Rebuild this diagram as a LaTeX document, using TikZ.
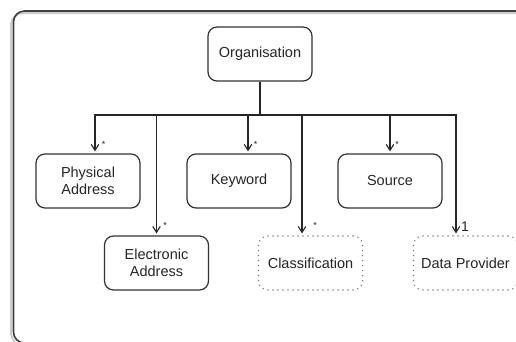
\documentclass[tikz,border=0pt]{standalone}
\usepackage{fontspec}
\setmainfont{Liberation Sans}
\usetikzlibrary{arrows.meta}
\begin{document}
\begin{tikzpicture}[x=1pt,y=-1pt,
  box/.style={draw=black!80,line width=1.2pt,rounded corners=9pt,minimum width=104pt,minimum height=54pt,align=center,inner sep=2pt,font=\fontsize{14.5}{16.5}\selectfont,text=black!85},
  dotbox/.style={box,draw=black!55,dash pattern=on 1.1pt off 3.9pt,line width=1.1pt},
  conn/.style={draw=black!85,line width=1.2pt,-{Straight Barb[length=6pt,width=7.5pt,line width=1.1pt]},shorten >=2pt},
  mult/.style={font=\fontsize{9}{10}\selectfont,inner sep=0pt,text=black!85},
  one/.style={font=\fontsize{14}{15}\selectfont,inner sep=0pt,text=black!85}]
\useasboundingbox (0,0) rectangle (516,341);
\fill[white] (0,0) rectangle (516,341);
\begin{scope}
\clip (0,0) rectangle (516,341);
\draw[black!20,line width=2pt,rounded corners=12pt] (11,13) rectangle (540,345);
\draw[black!75,line width=1.6pt,rounded corners=11pt] (13.5,11) rectangle (540,343);
\end{scope}
\node[box] (org) at (260,54) {Organisation};
\node[box] (phys) at (88,181) {Physical\\Address};
\node[box] (key) at (239,181) {Keyword};
\node[box] (src) at (390,181) {Source};
\node[box] (elec) at (156.5,263) {Electronic\\Address};
\node[dotbox] (cls) at (310.5,263) {Classification};
\node[dotbox] (dp) at (465.5,263) {Data Provider};
\coordinate (bus) at (260,115);
\draw[conn] (org.south) -- (bus) -| ([xshift=7pt]phys.north);
\draw[conn] (org.south) -- (bus) -| (elec.north);
\draw[conn] (org.south) -- (bus) -| ([xshift=9pt]key.north);
\draw[conn] (org.south) -- (bus) -| ([xshift=-8.5pt]cls.north);
\draw[conn] (org.south) -- (bus) -| (src.north);
\draw[conn] (org.south) -- (bus) -| ([xshift=-9.5pt]dp.north);
\node[mult] (m1) at (103.5,144) {*};
\node[mult] (m2) at (165,225) {*};
\node[mult] (m3) at (255.5,144) {*};
\node[mult] (m4) at (315,225) {*};
\node[mult] (m5) at (397,144) {*};
\node[one] (m6) at (465,227) {1};
\end{tikzpicture}
\end{document}
